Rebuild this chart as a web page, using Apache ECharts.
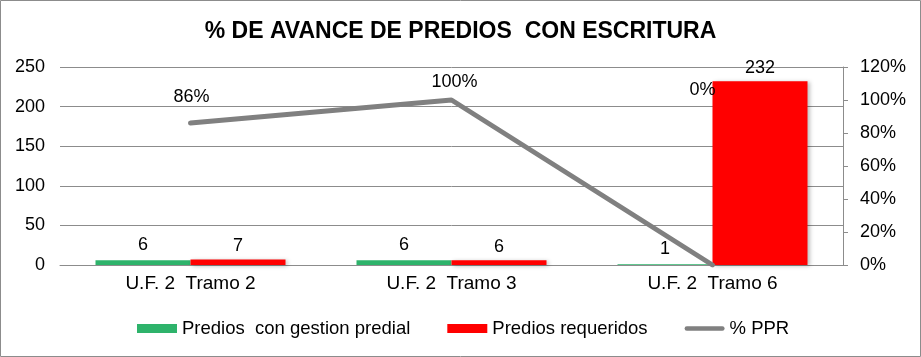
<!DOCTYPE html>
<html>
<head>
<meta charset="utf-8">
<script src="https://cdn.jsdelivr.net/npm/echarts@6/dist/echarts.min.js"></script>
<style>
html,body{margin:0;padding:0;background:#fff;}
#c{width:921px;height:357px;}
</style>
</head>
<body>
<div id="c"></div>
<script>
const categories = ['U.F. 2  Tramo 2', 'U.F. 2  Tramo 3', 'U.F. 2  Tramo 6'];
const gestionValues = [6, 6, 1];
const requeridosValues = [7, 6, 232];
const pprValues = [0.86, 1.00, 0.00];
const leftTicks = {min: 0, max: 250, interval: 50};
const rightTicks = {min: 0, max: 1.2, interval: 0.2};
const seriesNames = ['Predios  con gestion predial', 'Predios requeridos', '% PPR'];
const titleText = '% DE AVANCE DE PREDIOS  CON ESCRITURA';

const FONT = '"Liberation Sans", Arial, sans-serif';
const pprLabelOffsets = [[1, -17], [3, -9], [-10, -166]];

const chart = echarts.init(document.getElementById('c'), null, {renderer: 'canvas'});

const labelStyle = {show: true, color: '#000', fontFamily: FONT, fontSize: 18};

const option = {
  backgroundColor: '#fff',
  animation: false,
  title: {
    text: titleText,
    left: 'center',
    top: 20,
    padding: 0,
    textStyle: {fontFamily: FONT, fontSize: 23, fontWeight: 'bold', color: '#000'}
  },
  graphic: [{
    type: 'rect',
    shape: {x: 0.5, y: 0.5, width: 920, height: 356},
    style: {fill: 'none', stroke: '#8c8c8c', lineWidth: 1},
    silent: true
  }],
  legend: {
    left: 137,
    top: 319,
    padding: 0,
    itemGap: 37,
    itemWidth: 40,
    itemHeight: 9,
    textStyle: {fontFamily: FONT, fontSize: 18.5, color: '#000'},
    data: [
      {name: seriesNames[0], icon: 'rect'},
      {name: seriesNames[1], icon: 'rect'},
      {name: seriesNames[2], icon: 'path://M2.5,0 L42.5,0 A2.5,2.5 0 0 1 42.5,5 L2.5,5 A2.5,2.5 0 0 1 2.5,0 Z', itemStyle: {color: '#808080'}}
    ]
  },
  grid: {left: 60, right: 78, top: 67, bottom: 92, containLabel: false},
  xAxis: {
    type: 'category',
    data: categories,
    axisLine: {show: true, lineStyle: {color: '#8c8c8c', width: 1}},
    axisTick: {show: false},
    axisLabel: {color: '#000', fontFamily: FONT, fontSize: 19, margin: 9}
  },
  yAxis: [{
    type: 'value',
    min: leftTicks.min, max: leftTicks.max, interval: leftTicks.interval,
    axisLine: {show: false},
    axisTick: {show: false},
    splitLine: {show: true, lineStyle: {color: '#8c8c8c', width: 1}},
    axisLabel: {color: '#000', fontFamily: FONT, fontSize: 18, margin: 15}
  }, {
    type: 'value',
    position: 'right',
    min: rightTicks.min, max: rightTicks.max, interval: rightTicks.interval,
    axisLine: {show: true, lineStyle: {color: '#8c8c8c', width: 1}},
    axisTick: {show: true, length: 5, lineStyle: {color: '#8c8c8c'}},
    splitLine: {show: false},
    axisLabel: {
      color: '#000', fontFamily: FONT, fontSize: 18, margin: 17,
      formatter: v => Math.round(v * 100) + '%'
    }
  }],
  series: [{
    name: seriesNames[0],
    type: 'bar',
    yAxisIndex: 0,
    barWidth: 95,
    barGap: '0%',
    data: gestionValues,
    itemStyle: {color: '#2eb36b'},
    label: Object.assign({}, labelStyle, {position: 'top', distance: 6})
  }, {
    name: seriesNames[1],
    type: 'bar',
    yAxisIndex: 0,
    barWidth: 95,
    barGap: '0%',
    data: requeridosValues,
    itemStyle: {color: '#ff0000', shadowColor: 'rgba(0,0,0,0.25)', shadowBlur: 4, shadowOffsetX: 2, shadowOffsetY: 1},
    label: Object.assign({}, labelStyle, {position: 'top', distance: 4})
  }, {
    name: seriesNames[2],
    type: 'line',
    yAxisIndex: 1,
    z: 5,
    symbol: 'circle',
    symbolSize: 0,
    showSymbol: true,
    data: pprValues.map((v, i) => ({
      value: v,
      label: {offset: pprLabelOffsets[i]}
    })),
    lineStyle: {color: '#808080', width: 5, cap: 'round'},
    itemStyle: {color: '#808080'},
    label: Object.assign({}, labelStyle, {
      position: 'top', distance: 0,
      formatter: p => Math.round(p.value * 100) + '%'
    })
  }]
};

chart.setOption(option);
</script>
</body>
</html>
